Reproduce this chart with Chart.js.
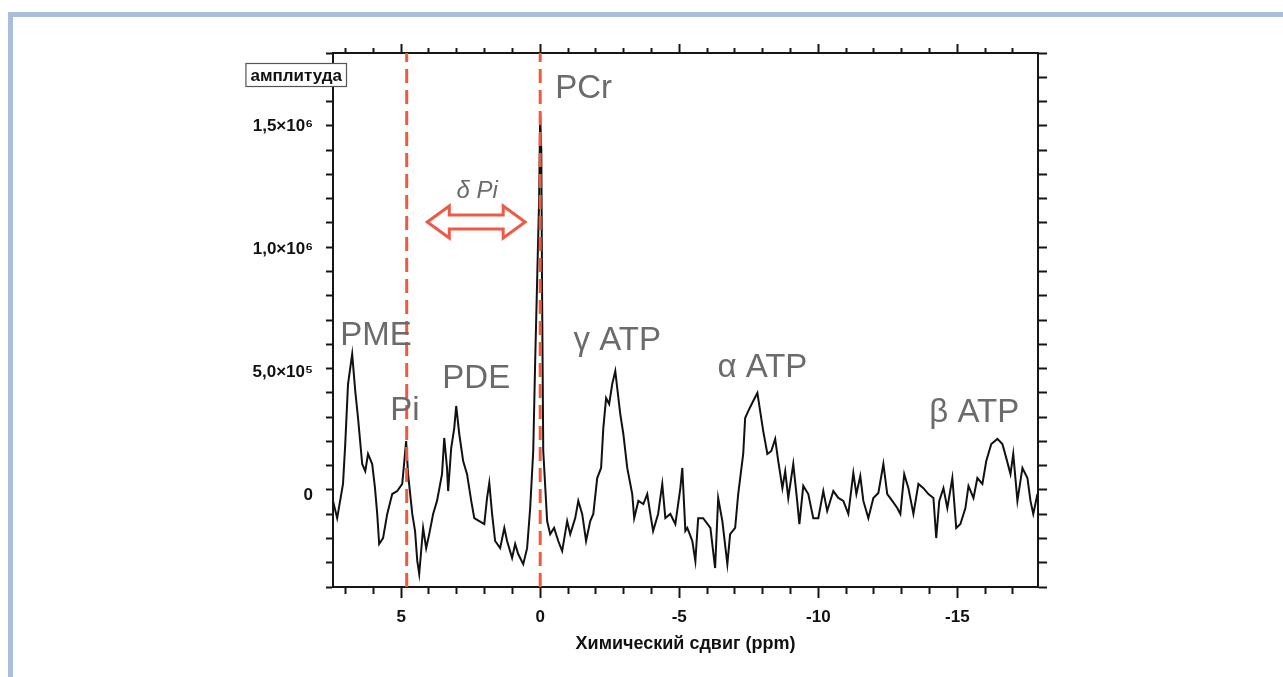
<!DOCTYPE html>
<html><head><meta charset="utf-8">
<script src="https://cdn.jsdelivr.net/npm/chart.js@4.4.1/dist/chart.umd.min.js"></script>
<style>
html,body{margin:0;padding:0;background:#fff;width:1283px;height:677px;overflow:hidden;}
#frame{position:absolute;left:8px;top:12px;width:1300px;height:700px;border-left:5px solid #a9bddd;border-top:5px solid #a9bddd;box-sizing:border-box;}
#c{position:absolute;left:0;top:0;}
</style></head><body>
<div id="frame"></div>
<canvas id="c" width="1283" height="677"></canvas>
<script>
// ---- data (chemical shift in ppm, amplitude) ----
const ppm = [7.45,7.30,7.09,7.01,6.91,6.76,6.65,6.55,6.40,6.29,
 6.19,6.04,5.94,5.86,5.79,5.65,5.50,5.32,5.14,4.96,
 4.82,4.75,4.60,4.50,4.42,4.35,4.21,4.10,3.99,3.85,
 3.71,3.53,3.45,3.35,3.31,3.20,3.09,3.02,2.91,2.77,
 2.63,2.48,2.37,2.19,2.01,1.91,1.83,1.73,1.62,1.44,
 1.29,1.19,1.01,0.90,0.79,0.61,0.47,0.36,0.25,0.18,
 0.11,0.04,0.00,-0.04,-0.07,-0.11,-0.25,-0.36,-0.50,-0.65,
 -0.79,-0.97,-1.08,-1.26,-1.37,-1.51,-1.65,-1.80,-1.91,-2.05,
 -2.19,-2.27,-2.37,-2.48,-2.59,-2.70,-2.77,-2.88,-2.99,-3.13,
 -3.31,-3.38,-3.53,-3.71,-3.85,-3.96,-4.06,-4.24,-4.39,-4.50,
 -4.68,-4.86,-5.04,-5.11,-5.22,-5.29,-5.47,-5.58,-5.68,-5.86,
 -6.12,-6.29,-6.40,-6.55,-6.73,-6.83,-7.01,-7.12,-7.30,-7.37,
 -7.48,-7.66,-7.81,-7.91,-8.02,-8.17,-8.31,-8.45,-8.56,-8.71,
 -8.81,-8.92,-9.10,-9.24,-9.32,-9.46,-9.64,-9.82,-10.00,-10.18,
 -10.32,-10.54,-10.72,-10.90,-11.08,-11.26,-11.37,-11.51,-11.62,-11.80,
 -11.98,-12.16,-12.34,-12.48,-12.66,-12.84,-12.95,-13.09,-13.24,-13.42,
 -13.60,-13.78,-13.96,-14.14,-14.24,-14.35,-14.50,-14.64,-14.82,-14.96,
 -15.11,-15.29,-15.40,-15.58,-15.72,-15.90,-16.04,-16.22,-16.44,-16.62,
 -16.76,-16.91,-17.01,-17.16,-17.34,-17.52,-17.63,-17.73,-17.88];
const amplitude = [-28000,-98000,41000,203000,447000,569000,419000,309000,122000,93000,
 163000,122000,24000,-81000,-203000,-179000,-81000,0,12000,41000,
 215000,81000,-81000,-150000,-272000,-325000,-138000,-220000,-163000,-81000,
 -28000,81000,228000,106000,12000,187000,268000,358000,244000,134000,
 81000,-28000,-98000,-110000,-122000,-16000,45000,-81000,-191000,-220000,
 -138000,-191000,-260000,-203000,-244000,-285000,-220000,-57000,175000,541000,
 866000,1190000,1540000,1395000,785000,175000,-110000,-163000,-138000,-191000,
 -232000,-110000,-163000,-98000,-28000,-81000,-191000,-110000,-81000,65000,
 106000,268000,390000,366000,447000,500000,431000,325000,244000,106000,
 0,-98000,-28000,-41000,0,-81000,-150000,-81000,41000,-98000,
 -81000,-122000,24000,106000,-150000,-138000,-191000,-272000,-98000,-98000,
 -138000,-301000,-16000,-110000,-285000,-163000,-138000,0,163000,309000,
 337000,378000,411000,337000,256000,163000,175000,224000,134000,24000,
 93000,-16000,122000,-28000,-122000,33000,0,-98000,-98000,12000,
 -69000,12000,-16000,-28000,-81000,85000,0,73000,-28000,-98000,
 -16000,4000,122000,0,-28000,-57000,-81000,81000,24000,-81000,
 41000,24000,0,-16000,-179000,-28000,24000,-57000,65000,-138000,
 -122000,-57000,33000,-16000,65000,41000,134000,203000,224000,203000,
 146000,81000,163000,-28000,106000,65000,-28000,-81000,0];

// reference lines (ppm) : Pi and PCr
const markerLines = [4.80, 0.00];

// tick labels
const xTickValues = [5, 0, -5, -10, -15];
const xTickLabels = ['5', '0', '-5', '-10', '-15'];
const yTickValues = [0, 500000, 1000000, 1500000];
const yTickLabels = ['0', '5,0×10⁵', '1,0×10⁶', '1,5×10⁶'];

// axis range
const X_MIN = -17.9, X_MAX = 7.45;
const Y_MIN = -378000, Y_MAX = 1793000;

// peak annotations
const peakLabels = ['PCr', 'PME', 'Pi', 'PDE', 'γ ATP', 'α ATP', 'β ATP'];
const peakLabelPpm = [-0.54, 5.90, 4.86, 2.30, -2.77, -7.99, -15.61];
const peakLabelAmp = [1610000, 606000, 300000, 431000, 585000, 476000, 293000];
const peakLabelAlign = ['left', 'center', 'center', 'center', 'center', 'center', 'center'];

const deltaLabel = 'δ Pi';
const deltaLabelPos = [2.27, 1203000];
const deltaArrow = [4.06, 0.54, 1106000];

const yTitle = 'амплитуда';
const xTitle = 'Химический сдвиг (ppm)';

const FONT = "'Liberation Sans', Arial, Helvetica, sans-serif";
Chart.defaults.font.family = FONT;

const near = (a, b) => Math.abs(a - b) < 1e-6 * Math.max(1, Math.abs(b));
const isMajorX = v => v != null && Math.abs(v / 5 - Math.round(v / 5)) < 1e-6;
const isMajorY = v => v != null && Math.abs(v / 500000 - Math.round(v / 500000)) < 1e-6;

function grid(major, minor, outerFirst, isMajor) {
  return {
    drawOnChartArea: false, drawTicks: true, tickLength: major,
    color: 'rgba(0,0,0,0)', tickColor: '#161616', tickWidth: 2,
    tickBorderDash: c => isMajor(c.tick && c.tick.value) ? [] : [minor, major - minor],
    tickBorderDashOffset: c => (outerFirst && !isMajor(c.tick && c.tick.value)) ? minor : 0
  };
}
const mkBorder = () => ({ display: true, color: '#161616', width: 2 });

const traceData = ppm.map((p, i) => ({ x: p, y: amplitude[i] }));
const lineSets = markerLines.map(p => ({
  data: [{ x: p, y: Y_MIN }, { x: p, y: Y_MAX }],
  borderColor: '#ef5a3e', borderWidth: 3, borderDash: [14, 7],
  pointRadius: 0, fill: false, order: 0
}));

const Y_TICK_LEN = 12, Y_TICK_PAD = 8;

const annot = {
  id: 'annot',
  afterDraw(chart) {
    const { ctx, scales: { x, y }, chartArea } = chart;
    ctx.save();
    // y tick labels (placed through the y scale)
    ctx.fillStyle = '#111';
    ctx.font = "bold 17px " + FONT;
    ctx.textAlign = 'right';
    ctx.textBaseline = 'middle';
    yTickValues.forEach((v, i) => {
      ctx.fillText(yTickLabels[i], chartArea.left - Y_TICK_LEN - Y_TICK_PAD, y.getPixelForValue(v) + 1);
    });
    // peak labels
    ctx.fillStyle = '#6b6b6b';
    ctx.textBaseline = 'alphabetic';
    ctx.font = "33px " + FONT;
    peakLabels.forEach((t, i) => {
      ctx.textAlign = peakLabelAlign[i];
      ctx.fillText(t, x.getPixelForValue(peakLabelPpm[i]), y.getPixelForValue(peakLabelAmp[i]));
    });
    // delta Pi
    ctx.font = "italic 24px " + FONT;
    ctx.textAlign = 'center';
    ctx.fillText(deltaLabel, x.getPixelForValue(deltaLabelPos[0]), y.getPixelForValue(deltaLabelPos[1]));
    // double arrow
    const x1 = x.getPixelForValue(deltaArrow[0]), x2 = x.getPixelForValue(deltaArrow[1]);
    const cy = y.getPixelForValue(deltaArrow[2]);
    const hl = 22, hh = 16, sh = 7;
    ctx.beginPath();
    ctx.moveTo(x1, cy);
    ctx.lineTo(x1 + hl, cy - hh); ctx.lineTo(x1 + hl, cy - sh);
    ctx.lineTo(x2 - hl, cy - sh); ctx.lineTo(x2 - hl, cy - hh);
    ctx.lineTo(x2, cy);
    ctx.lineTo(x2 - hl, cy + hh); ctx.lineTo(x2 - hl, cy + sh);
    ctx.lineTo(x1 + hl, cy + sh); ctx.lineTo(x1 + hl, cy + hh);
    ctx.closePath();
    ctx.fillStyle = '#fff'; ctx.fill();
    ctx.strokeStyle = '#ee5a45'; ctx.lineWidth = 3; ctx.lineJoin = 'miter'; ctx.stroke();
    // y-axis title box
    ctx.font = "bold 17px " + FONT;
    const tw = ctx.measureText(yTitle).width;
    const bw = tw + 10, bh = 24;
    const bx = chartArea.left + 14 - bw, by = chartArea.top + 10;
    ctx.fillStyle = '#fff';
    ctx.fillRect(bx, by, bw, bh);
    ctx.strokeStyle = '#555'; ctx.lineWidth = 1.2;
    ctx.strokeRect(bx + 0.5, by + 0.5, bw - 1, bh - 1);
    ctx.fillStyle = '#111'; ctx.textAlign = 'center'; ctx.textBaseline = 'middle';
    ctx.fillText(yTitle, bx + bw / 2, by + bh / 2 + 1);
    ctx.restore();
  }
};

new Chart(document.getElementById('c'), {
  type: 'line',
  data: {
    datasets: [
      ...lineSets,
      { data: traceData, borderColor: '#111', borderWidth: 2, pointRadius: 0, tension: 0, fill: false, order: 1 }
    ]
  },
  options: {
    responsive: false, animation: false, events: [],
    layout: { padding: 0 },
    plugins: { legend: { display: false }, tooltip: { enabled: false } },
    scales: {
      x: {
        type: 'linear', position: 'bottom', reverse: true, min: X_MIN, max: X_MAX,
        border: mkBorder(), grid: grid(11, 6, false, isMajorX),
        ticks: {
          stepSize: 1, includeBounds: false, autoSkip: false, maxRotation: 0, minRotation: 0, maxTicksLimit: 100,
          padding: 9, color: '#111', font: { size: 17, weight: 'bold' },
          callback: v => { const k = xTickValues.findIndex(t => near(v, t)); return k >= 0 ? xTickLabels[k] : ''; }
        },
        title: { display: true, text: xTitle, color: '#111', font: { size: 18, weight: 'bold' }, padding: { top: 0, bottom: 22 } },
        afterFit: s => { s.height = 90; }
      },
      x2: {
        type: 'linear', position: 'top', reverse: true, min: X_MIN, max: X_MAX,
        border: mkBorder(), grid: grid(9, 5, true, isMajorX),
        ticks: { display: false, stepSize: 1, includeBounds: false, autoSkip: false, maxTicksLimit: 100 },
        afterFit: s => { s.height = 53; }
      },
      y: {
        type: 'linear', position: 'left', min: Y_MIN, max: Y_MAX,
        border: mkBorder(), grid: grid(Y_TICK_LEN, 7, true, isMajorY),
        ticks: { display: false, stepSize: 100000, includeBounds: false, autoSkip: false, maxTicksLimit: 100 },
        afterFit: s => { s.width = 333; }
      },
      y2: {
        type: 'linear', position: 'right', min: Y_MIN, max: Y_MAX,
        border: mkBorder(), grid: grid(14, 8, false, isMajorY),
        ticks: { display: false, stepSize: 100000, includeBounds: false, autoSkip: false, maxTicksLimit: 100 },
        afterFit: s => { s.width = 245; }
      }
    }
  },
  plugins: [annot]
});
</script>
</body></html>
